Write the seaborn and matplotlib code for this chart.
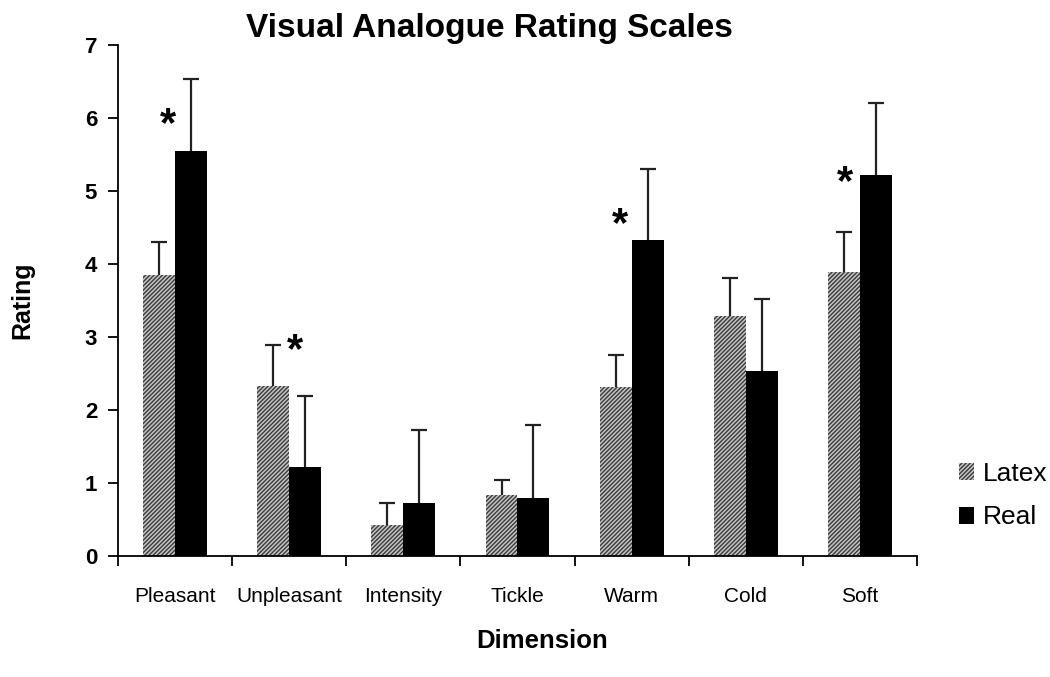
import matplotlib
matplotlib.use("Agg")
import matplotlib.pyplot as plt
import numpy as np
import pandas as pd
import seaborn as sns

# Valores
dimensions = ["Pleasant", "Unpleasant", "Intensity", "Tickle", "Warm", "Cold", "Soft"]
latex_mean = [3.85, 2.33, 0.42, 0.83, 2.31, 3.29, 3.89]
latex_top = [4.30, 2.89, 0.72, 1.04, 2.75, 3.81, 4.44]
real_mean = [5.55, 1.22, 0.73, 0.80, 4.33, 2.53, 5.22]
real_top = [6.53, 2.19, 1.72, 1.79, 5.30, 3.52, 6.20]
star_dims = ["Pleasant", "Unpleasant", "Warm", "Soft"]
star_y = [5.90, 2.81, 4.53, 5.11]
star_dx = [-0.06, 0.05, -0.10, -0.13]

df = pd.DataFrame({
    "Dimension": dimensions * 2,
    "Rating": latex_mean + real_mean,
    "Top": latex_top + real_top,
    "Group": ["Latex"] * len(dimensions) + ["Real"] * len(dimensions),
})

sns.set_style("white")
plt.rcParams["font.family"] = ["Liberation Sans", "DejaVu Sans"]
plt.rcParams["text.color"] = "black"
plt.rcParams["xtick.color"] = "black"
plt.rcParams["ytick.color"] = "black"
plt.rcParams["hatch.linewidth"] = 1.0

fig = plt.figure(figsize=(10.5, 6.77), dpi=100)
ax = fig.add_axes([0.1124, 0.1787, 0.7609, 0.7548])

sns.barplot(data=df, x="Dimension", y="Rating", hue="Group",
            palette={"Latex": "#c4c4c4", "Real": "black"},
            width=0.56, errorbar=None, linewidth=0, ax=ax)

# trama rayada para Latex y barras de error solo hacia arriba
for cont, grp in zip(ax.containers, ["Latex", "Real"]):
    sub = df[df["Group"] == grp]
    xs = [p.get_x() + p.get_width() / 2 for p in cont]
    hs = [p.get_height() for p in cont]
    err = np.array(sub["Top"]) - np.array(hs)
    _, caps, _ = ax.errorbar(xs, hs, yerr=[np.zeros(len(err)), err], fmt="none",
                             ecolor="#222222", elinewidth=1.6, capsize=6, capthick=1.6,
                             zorder=1)
    caps[0].set_visible(False)
    for p in cont:
        p.set_zorder(2)
        if grp == "Latex":
            p.set_hatch("////////")
            p.set_edgecolor("#3a3a3a")
            p.set_linewidth(0)

for d, y, dx in zip(star_dims, star_y, star_dx):
    ax.text(dimensions.index(d) + dx, y, "*", ha="center", va="center",
            fontsize=30, fontweight="bold")

ax.set_ylim(0, 7)
ax.set_xlim(-0.5, len(dimensions) - 0.5)
ax.set_yticks(range(8))
ax.set_xticks(np.arange(-0.5, len(dimensions)), minor=True)
ax.tick_params(axis="x", which="major", length=0, pad=22, labelsize=15)
ax.tick_params(axis="x", which="minor", length=7, width=1.3, direction="out", bottom=True)
ax.tick_params(axis="y", length=7, width=1.3, direction="out", left=True, labelsize=16, pad=8)
for lab in ax.get_yticklabels():
    lab.set_fontweight("bold")

sns.despine(ax=ax)
for s in ["left", "bottom"]:
    ax.spines[s].set_linewidth(1.3)
    ax.spines[s].set_color("black")

ax.set_xlabel("")
ax.set_ylabel("")
fig.text(0.516, 0.053, "Dimension", ha="center", va="center", fontsize=18.5, fontweight="bold")
fig.text(0.021, 0.557, "Rating", ha="center", va="center", rotation=90, fontsize=18, fontweight="bold")
fig.text(0.466, 0.958, "Visual Analogue Rating Scales", ha="center", va="center",
         fontsize=24, fontweight="bold")

handles, labels = ax.get_legend_handles_labels()
handles[0].set_hatch("////////")
handles[0].set_edgecolor("#3a3a3a")
handles[0].set_linewidth(0)
ax.legend(handles, labels, title=None, frameon=False, loc="center left",
          bbox_to_anchor=(0.913, 0.268), bbox_transform=fig.transFigure, fontsize=19,
          borderpad=0, borderaxespad=0, handlelength=0.6, handleheight=0.6,
          handletextpad=0.3, labelspacing=0.75)

fig.savefig("out.png", dpi=100)
